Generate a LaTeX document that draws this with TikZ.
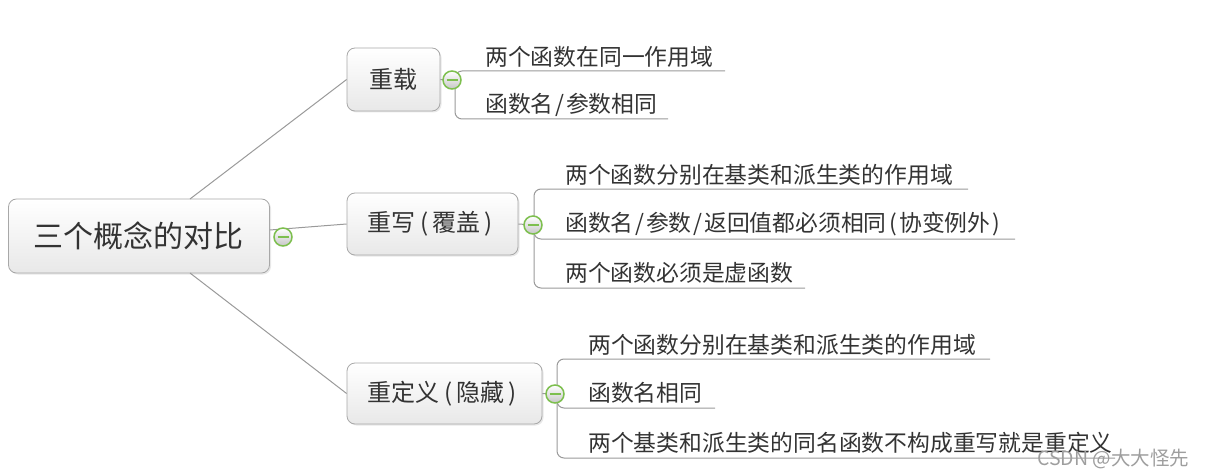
\documentclass[tikz,border=0pt]{standalone}
\usepackage{fontspec}
\setmainfont{Noto Sans CJK SC}
\usetikzlibrary{shadows,calc}
\definecolor{linegray}{HTML}{9A9A9A}
\definecolor{boxborder}{HTML}{A8A8A8}
\definecolor{txt}{HTML}{333333}
\definecolor{knobgreen}{HTML}{7DBF4E}
\newcommand{\hwc}[1]{\makebox[0.55em][c]{#1}}
\newcommand{\pwc}[1]{\makebox[0.7em][c]{#1}}
\begin{document}
\begin{tikzpicture}[x=1pt,y=-1pt,
  conn/.style={draw=linegray,line width=1pt},
  spine/.style={draw=linegray,line width=1pt,rounded corners=7pt},
  topicbox/.style={draw=boxborder,line width=0.8pt,rounded corners=8pt,top color=white,bottom color=black!9,
     drop shadow={opacity=0.18,shadow xshift=1.5pt,shadow yshift=-1.5pt},text=txt,inner sep=0pt},
  rootbox/.style={topicbox,font=\fontsize{30}{30}\selectfont},
  branchbox/.style={topicbox,font=\fontsize{24}{24}\selectfont},
  leaf/.style={anchor=west,inner sep=0pt,text=txt,font=\fontsize{22.8}{22.8}\selectfont},
  knob/.style={circle,draw=knobgreen,line width=1.5pt,minimum size=18pt,inner sep=0pt,top color=white,bottom color=black!22},
  minus/.style={draw=knobgreen,line width=1.8pt}
]
\useasboundingbox (0,0) rectangle (1205,476);

% nodes
\node[rootbox,minimum width=261pt,minimum height=74pt] (root) at (139,236) {三个概念的对比};
\node[branchbox,minimum width=93pt,minimum height=63pt] (b1) at (393.5,79.5) {重载};
\node[branchbox,minimum width=171pt,minimum height=62pt] (b2) at (432.5,224) {重写\pwc{(}覆盖\pwc{)}};
\node[branchbox,minimum width=195pt,minimum height=61pt] (b3) at (444.5,393.5) {重定义\pwc{(}隐藏\pwc{)}};

% root connectors
\coordinate (rt) at (190,199);
\coordinate (rb) at (190,273);
\coordinate (rr) at (270,230);
\draw[conn] (rt) -- (b1.west);
\draw[conn] (rr) -- (b2.west);
\draw[conn] (rb) -- (b3.west);

% leaf texts
\node[leaf] (l11) at (485,57) {两个函数在同一作用域};
\node[leaf] (l12) at (485,105) {函数名\hwc{/}参数相同};
\node[leaf] (l21) at (565,175) {两个函数分别在基类和派生类的作用域};
\node[leaf] (l22) at (565,224) {函数名\hwc{/}参数\hwc{/}返回值都必须相同\hwc{(}协变例外\hwc{)}};
\node[leaf] (l23) at (565,273) {两个函数必须是虚函数};
\node[leaf] (l31) at (588,345) {两个函数分别在基类和派生类的作用域};
\node[leaf] (l32) at (588,393) {函数名相同};
\node[leaf] (l33) at (588,443) {两个基类和派生类的同名函数不构成重写就是重定义};

% underline end points
\coordinate (e11) at (725,71);
\coordinate (e12) at (668,119);
\coordinate (e21) at (968,189);
\coordinate (e22) at (1015,239);
\coordinate (e23) at (805,288);
\coordinate (e31) at (990,359);
\coordinate (e32) at (715,408);
\coordinate (e33) at (1115,458);

% spines
\draw[spine] (e11) -- (455,71) -- (455,119) -- (e12);
\draw[spine] (e21) -- (534,189) -- (534,288) -- (e23);
\draw[spine] (534,220) -- (534,239) -- (e22);
\draw[spine] (e31) -- (557,359) -- (557,458) -- (e33);
\draw[spine] (557,390) -- (557,408) -- (e32);

% box to knob stubs
\draw[conn] (b1.east) -- (452,80);
\draw[conn] (b2.east) -- (533,225);
\draw[conn] (b3.east) -- (555,394);

% knobs
\node[knob] (k0) at (283,237) {};
\node[knob] (k1) at (452,80) {};
\node[knob] (k2) at (533,225) {};
\node[knob] (k3) at (555,394) {};
\foreach \k in {k0,k1,k2,k3}{
  \draw[minus] ($(\k.center)+(-5.5,0)$) -- ($(\k.center)+(5.5,0)$);
}

% watermark
\node[anchor=west,inner sep=0pt,text=black!38,font=\fontsize{19.5}{19.5}\selectfont] (wm) at (1037,459) {CSDN @大大怪先};
\end{tikzpicture}
\end{document}
